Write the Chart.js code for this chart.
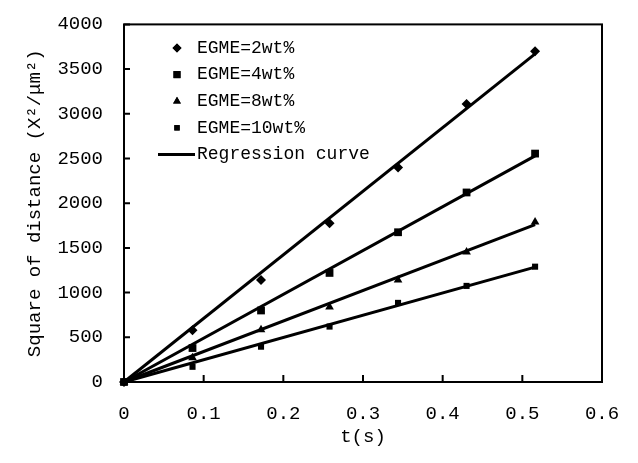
<!DOCTYPE html>
<html>
<head>
<meta charset="utf-8">
<script src="https://cdn.jsdelivr.net/npm/chart.js@4.4.1/dist/chart.umd.min.js"></script>
<style>
  html, body { margin: 0; padding: 0; background: #fff; }
  #wrap { width: 638px; height: 463px; position: relative; }
</style>
</head>
<body>
<div id="wrap"><canvas id="c"></canvas></div>
<script>
// tiempos (s) y cuadrado de la distancia
const times = [0, 0.086, 0.172, 0.258, 0.344, 0.43, 0.516];
const egme2 = [0, 580, 1140, 1775, 2400, 3110, 3700];
const egme4 = [0, 380, 800, 1220, 1675, 2120, 2555];
const egme8 = [0, 270, 585, 840, 1140, 1455, 1790];
const egme10 = [0, 170, 395, 620, 885, 1075, 1290];

// rectas de regresion (extremos)
const fitT = [0, 0.516];
const fit2 = [0, 3670];
const fit4 = [0, 2530];
const fit8 = [0, 1760];
const fit10 = [0, 1285];

const seriesLabels = ['EGME=2wt%', 'EGME=4wt%', 'EGME=8wt%', 'EGME=10wt%'];
const fitLabel = 'Regression curve';
const xTicks = [0, 0.1, 0.2, 0.3, 0.4, 0.5, 0.6];
const yTicks = [0, 500, 1000, 1500, 2000, 2500, 3000, 3500, 4000];

const INK = '#000';
const FONT = "'Liberation Mono', 'DejaVu Sans Mono', monospace";

const pts = (xs, ys) => xs.map((x, i) => ({ x, y: ys[i] }));

const markers = [
  { style: 'rectRot', r: 5 },
  { style: 'rect', r: 5.5 },
  { style: 'triangle', r: 5 },
  { style: 'rect', r: 4.3 }
];

const pointSets = [egme2, egme4, egme8, egme10].map((ys, i) => ({
  label: seriesLabels[i],
  data: pts(times, ys),
  showLine: false,
  pointStyle: markers[i].style,
  pointRadius: markers[i].r,
  backgroundColor: INK,
  borderColor: INK,
  borderWidth: 0,
  clip: false
}));

const fitSets = [fit2, fit4, fit8, fit10].map(ys => ({
  label: fitLabel,
  data: pts(fitT, ys),
  showLine: true,
  pointRadius: 0,
  borderColor: INK,
  borderWidth: 3,
  clip: false
}));

// marco, marcas hacia adentro y leyenda dentro del area
const frame = {
  id: 'frame',
  beforeDatasetsDraw(chart) {
    const { ctx, chartArea: a, scales: { x, y } } = chart;
    ctx.save();
    ctx.strokeStyle = INK;
    ctx.lineWidth = 2;
    ctx.strokeRect(a.left, a.top, a.right - a.left, a.bottom - a.top);
    ctx.beginPath();
    xTicks.forEach(v => {
      const px = x.getPixelForValue(v);
      ctx.moveTo(px, a.bottom); ctx.lineTo(px, a.bottom - 7);
    });
    yTicks.forEach(v => {
      const py = y.getPixelForValue(v);
      ctx.moveTo(a.left, py); ctx.lineTo(a.left + 6, py);
    });
    ctx.stroke();
    ctx.restore();
  },
  afterDatasetsDraw(chart) {
    const { ctx } = chart;
    const mx = 177, tx = 197, y0 = 48, dy = 26.6;
    ctx.save();
    ctx.fillStyle = INK;
    ctx.strokeStyle = INK;
    ctx.font = '18px ' + FONT;
    ctx.textBaseline = 'middle';
    ctx.textAlign = 'left';
    seriesLabels.forEach((lab, i) => {
      const yy = y0 + i * dy;
      Chart.helpers.drawPoint(ctx, { pointStyle: markers[i].style, radius: markers[i].r - 0.5, borderWidth: 0 }, mx, yy);
      ctx.fill();
      ctx.fillText(lab, tx, yy);
    });
    const yr = y0 + 4 * dy;
    ctx.lineWidth = 3;
    ctx.beginPath();
    ctx.moveTo(158, yr); ctx.lineTo(195, yr);
    ctx.stroke();
    ctx.fillText(fitLabel, tx, yr);
    ctx.restore();
  }
};

new Chart(document.getElementById('c'), {
  type: 'scatter',
  data: { datasets: [...pointSets, ...fitSets] },
  options: {
    responsive: true,
    maintainAspectRatio: false,
    animation: false,
    layout: { padding: { left: 0, top: 21, right: 36, bottom: 0 } },
    plugins: { legend: { display: false }, tooltip: { enabled: false } },
    scales: {
      x: {
        type: 'linear',
        min: 0, max: 0.6,
        afterBuildTicks: s => { s.ticks = xTicks.map(v => ({ value: v })); },
        afterFit: s => { s.height = 81; },
        grid: { display: false },
        border: { display: false },
        ticks: {
          padding: 13,
          color: INK,
          font: { family: FONT, size: 19 },
          callback: v => (v === 0 ? '0' : v.toFixed(1))
        },
        title: {
          display: true,
          text: 't(s)',
          color: INK,
          font: { family: FONT, size: 19 },
          padding: { top: 0, bottom: 15 }
        }
      },
      y: {
        type: 'linear',
        min: 0, max: 4000,
        afterBuildTicks: s => { s.ticks = yTicks.map(v => ({ value: v })); },
        afterFit: s => { s.width = 124; },
        grid: { display: false },
        border: { display: false },
        ticks: {
          padding: 13,
          color: INK,
          font: { family: FONT, size: 19 },
          callback: v => String(v)
        },
        title: {
          display: true,
          text: 'Square of distance (X²/μm²)',
          color: INK,
          font: { family: FONT, size: 19 },
          padding: { top: 24, bottom: 0 }
        }
      }
    }
  },
  plugins: [frame]
});
</script>
</body>
</html>
